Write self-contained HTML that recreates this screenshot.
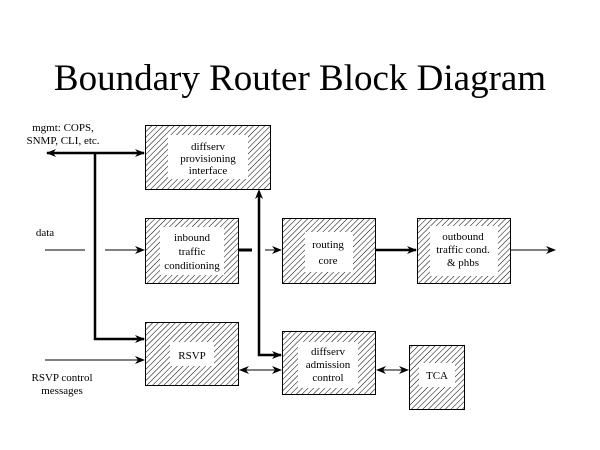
<!DOCTYPE html>
<html><head><style>body{margin:0;background:#fff}svg{display:block}</style></head><body>
<svg width="600" height="450" viewBox="0 0 600 450" xmlns="http://www.w3.org/2000/svg" font-family="Liberation Serif, serif">
<defs>
<pattern id="h" patternUnits="userSpaceOnUse" width="4" height="4" patternTransform="rotate(45)">
<rect width="4" height="4" fill="#fff"/><line x1="0" y1="0" x2="0" y2="4" stroke="#000" stroke-width="1"/>
</pattern>
<marker id="a" markerWidth="10" markerHeight="8" refX="9" refY="4" orient="auto-start-reverse" markerUnits="userSpaceOnUse">
<path d="M0,0 L10,4 L0,8 L3,4 Z" fill="#000"/></marker>
</defs>
<text x="300" y="90" font-size="37" text-anchor="middle">Boundary Router Block Diagram</text>
<g stroke="#000" stroke-width="1">
<rect x="145.5" y="125.5" width="125" height="64" fill="url(#h)"/><rect x="168" y="135" width="80" height="44" fill="#fff" stroke="none"/>
<rect x="145.5" y="218.5" width="93" height="65" fill="url(#h)"/><rect x="160" y="227" width="64" height="48" fill="#fff" stroke="none"/>
<rect x="282.5" y="218.5" width="93" height="65" fill="url(#h)"/><rect x="305" y="232" width="48" height="40" fill="#fff" stroke="none"/>
<rect x="417.5" y="218.5" width="93" height="65" fill="url(#h)"/><rect x="430" y="226" width="68" height="50" fill="#fff" stroke="none"/>
<rect x="145.5" y="322.5" width="93" height="63" fill="url(#h)"/><rect x="170" y="342" width="44" height="24" fill="#fff" stroke="none"/>
<rect x="282.5" y="331.5" width="93" height="63" fill="url(#h)"/><rect x="298" y="342" width="60" height="46" fill="#fff" stroke="none"/>
<rect x="409.5" y="345.5" width="55" height="64" fill="url(#h)"/><rect x="419" y="363" width="36" height="24" fill="#fff" stroke="none"/>
</g>
<g stroke="#000" fill="none">
<line x1="47" y1="153" x2="144" y2="153" stroke-width="2.5" marker-start="url(#a)" marker-end="url(#a)"/>
<polyline points="95,153 95,339 144,339" stroke-width="2.5"/>
<line x1="137" y1="339" x2="144" y2="339" marker-end="url(#a)"/>
<line x1="45" y1="250" x2="85" y2="250"/>
<line x1="105" y1="250" x2="144" y2="250" marker-end="url(#a)"/>
<line x1="45" y1="360" x2="144" y2="360" marker-end="url(#a)"/>
<line x1="238" y1="250" x2="252" y2="250" stroke-width="3"/>
<line x1="265" y1="250" x2="281" y2="250" marker-end="url(#a)"/>
<polyline points="281,355 259,355 259,192" stroke-width="2.5"/>
<line x1="259" y1="200" x2="259" y2="190" marker-end="url(#a)"/>
<line x1="272" y1="355" x2="281" y2="355" marker-end="url(#a)"/>
<line x1="240" y1="370" x2="281" y2="370" marker-start="url(#a)" marker-end="url(#a)"/>
<line x1="377" y1="370" x2="408" y2="370" marker-start="url(#a)" marker-end="url(#a)"/>
<line x1="375" y1="250" x2="416" y2="250" stroke-width="2.5" marker-end="url(#a)"/>
<line x1="510" y1="250" x2="555" y2="250" marker-end="url(#a)"/>
</g>
<g font-size="11" text-anchor="middle" fill="#000">
<text x="63" y="131">mgmt: COPS,</text><text x="63" y="144">SNMP, CLI, etc.</text>
<text x="45" y="236">data</text>
<text x="62" y="381">RSVP control</text><text x="62" y="394">messages</text>
<text x="208" y="150">diffserv</text><text x="208" y="162">provisioning</text><text x="208" y="174">interface</text>
<text x="192" y="241">inbound</text><text x="192" y="255">traffic</text><text x="192" y="269">conditioning</text>
<text x="328" y="248">routing</text><text x="328" y="264">core</text>
<text x="463" y="240">outbound</text><text x="463" y="253">traffic cond.</text><text x="463" y="266">&amp; phbs</text>
<text x="192" y="359">RSVP</text>
<text x="328" y="355">diffserv</text><text x="328" y="368">admission</text><text x="328" y="381">control</text>
<text x="437" y="379">TCA</text>
</g>
</svg>
</body></html>
